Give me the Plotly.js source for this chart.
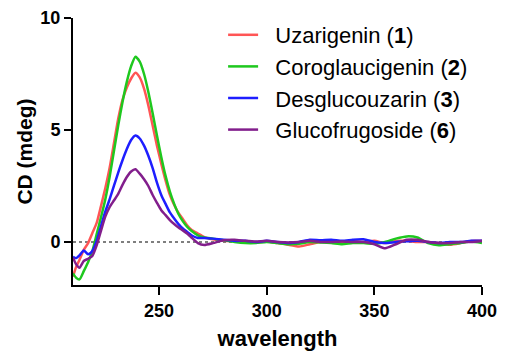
<!DOCTYPE html>
<html>
<head>
<meta charset="utf-8">
<script src="https://cdn.plot.ly/plotly-3.0.1.min.js"></script>
<style>html,body{margin:0;padding:0;background:#fff;}#chart{width:505px;height:352px;}</style>
</head>
<body>
<div id="chart"></div>
<script>
var wavelength = [210, 211.5, 213, 215, 217, 219, 221, 223, 225, 227, 229, 231, 233, 235, 237, 239, 241, 243, 245, 247, 249, 251, 253, 255, 257, 259, 261, 263, 265, 268, 271, 275, 280, 285, 290, 295, 300, 305, 310, 315, 320, 325, 330, 335, 340, 345, 350, 355, 360, 365, 370, 375, 380, 385, 390, 395, 400];

var uzarigenin = [-1.55, -1.1, -0.8, -0.35, -0.05, 0.4, 0.85, 1.6, 2.4, 3.3, 4.4, 5.5, 6.35, 6.9, 7.3, 7.56, 7.35, 6.85, 6.1, 5.2, 4.3, 3.5, 2.75, 2.1, 1.65, 1.3, 1.03, 0.75, 0.55, 0.38, 0.22, 0.12, 0.05, 0.05, 0.0, -0.02, 0.02, -0.05, -0.12, -0.2, -0.1, 0.0, 0.05, 0.0, 0.05, 0.0, 0.05, -0.05, 0.05, 0.05, 0.0, 0.0, -0.05, -0.12, -0.05, 0.05, 0.05];

var coroglaucigenin = [-1.4, -1.6, -1.67, -1.3, -0.9, -0.4, 0.35, 1.1, 1.9, 2.9, 4.05, 5.2, 6.25, 7.15, 7.85, 8.27, 8.05, 7.5, 6.7, 5.75, 4.75, 3.8, 2.95, 2.25, 1.7, 1.25, 0.93, 0.68, 0.5, 0.3, 0.2, 0.15, 0.08, 0.0, -0.05, -0.05, 0.0, -0.05, -0.1, -0.08, 0.0, -0.02, -0.05, -0.1, -0.05, -0.05, -0.08, 0.0, 0.15, 0.25, 0.2, -0.05, -0.15, -0.1, -0.05, 0.02, -0.05];

var desglucouzarin = [-0.66, -0.72, -0.6, -0.38, -0.55, -0.4, 0.05, 0.7, 1.35, 1.9, 2.5, 3.1, 3.65, 4.15, 4.55, 4.75, 4.62, 4.3, 3.85, 3.3, 2.65, 2.1, 1.7, 1.32, 1.05, 0.8, 0.6, 0.45, 0.3, 0.18, 0.18, 0.15, 0.1, 0.05, 0.05, 0.0, 0.05, 0.0, -0.05, 0.0, 0.1, 0.08, 0.1, 0.05, 0.1, 0.12, 0.0, -0.05, 0.0, 0.03, 0.05, 0.0, -0.05, 0.0, 0.0, 0.05, 0.05];

var glucofrugoside = [-0.7, -1.0, -1.15, -0.85, -0.75, -0.62, -0.15, 0.5, 1.13, 1.55, 1.85, 2.15, 2.55, 2.9, 3.15, 3.25, 3.05, 2.8, 2.5, 2.1, 1.75, 1.42, 1.2, 0.98, 0.8, 0.65, 0.52, 0.38, 0.2, -0.05, -0.13, -0.05, 0.08, 0.1, 0.05, 0.02, 0.05, 0.0, -0.02, 0.0, 0.05, 0.0, 0.0, 0.02, 0.0, 0.0, -0.1, -0.28, -0.1, 0.1, 0.1, 0.0, -0.05, -0.05, 0.0, 0.0, 0.05];

var seriesNames = ["Uzarigenin (<b>1</b>)", "Coroglaucigenin (<b>2</b>)", "Desglucouzarin (<b>3</b>)", "Glucofrugoside (<b>6</b>)"];
var seriesData = [uzarigenin, coroglaucigenin, desglucouzarin, glucofrugoside];
var seriesColors = ["rgb(255,85,85)", "rgb(30,200,30)", "rgb(30,30,255)", "rgb(130,30,140)"];
var xTicks = [250, 300, 350, 400];
var yTicks = [0, 5, 10];

var FONT = "'Liberation Sans', Arial, sans-serif";
var traces = seriesData.map(function (d, i) {
  return {
    x: wavelength, y: d, type: "scatter", mode: "lines",
    name: "\u00a0\u00a0" + seriesNames[i],
    line: {color: seriesColors[i], width: 2.5, shape: "spline", smoothing: 0.6},
    hoverinfo: "skip"
  };
});

var layout = {
  width: 505, height: 352,
  margin: {l: 73, r: 23, t: 18, b: 67},
  paper_bgcolor: "#fff", plot_bgcolor: "#fff",
  font: {family: FONT, color: "#000"},
  showlegend: true,
  legend: {
    x: 0.367, xanchor: "left", y: 1.015, yanchor: "top",
    bgcolor: "rgba(0,0,0,0)", borderwidth: 0,
    font: {family: FONT, size: 22, color: "#000"},
    traceorder: "normal"
  },
  xaxis: {
    range: [210, 400], tickvals: xTicks, ticktext: xTicks.map(String),
    showgrid: false, zeroline: false,
    showline: true, linecolor: "#000", linewidth: 2,
    ticks: "outside", ticklen: 8, tickwidth: 2, tickcolor: "#000",
    tickfont: {family: FONT, size: 18, weight: "bold", color: "#000"},
    title: {text: "<b>wavelength</b>", font: {family: FONT, size: 22, color: "#000"}, standoff: 11},
    automargin: false
  },
  yaxis: {
    range: [-1.92, 10], tickvals: yTicks, ticktext: yTicks.map(String),
    showgrid: false, zeroline: false,
    showline: true, linecolor: "#000", linewidth: 2,
    ticks: "outside", ticklen: 7, tickwidth: 2, tickcolor: "#000",
    tickfont: {family: FONT, size: 18, weight: "bold", color: "#000"},
    title: {text: "<b>CD (mdeg)</b>", font: {family: FONT, size: 21, color: "#000"}, standoff: 2},
    automargin: false
  },
  shapes: [{
    type: "line", xref: "paper", x0: 0, x1: 1, yref: "y", y0: 0, y1: 0,
    line: {color: "#000", width: 1.2, dash: "dot"}, layer: "below"
  }]
};

Plotly.newPlot("chart", traces, layout, {displayModeBar: false, staticPlot: true});
</script>
</body>
</html>
